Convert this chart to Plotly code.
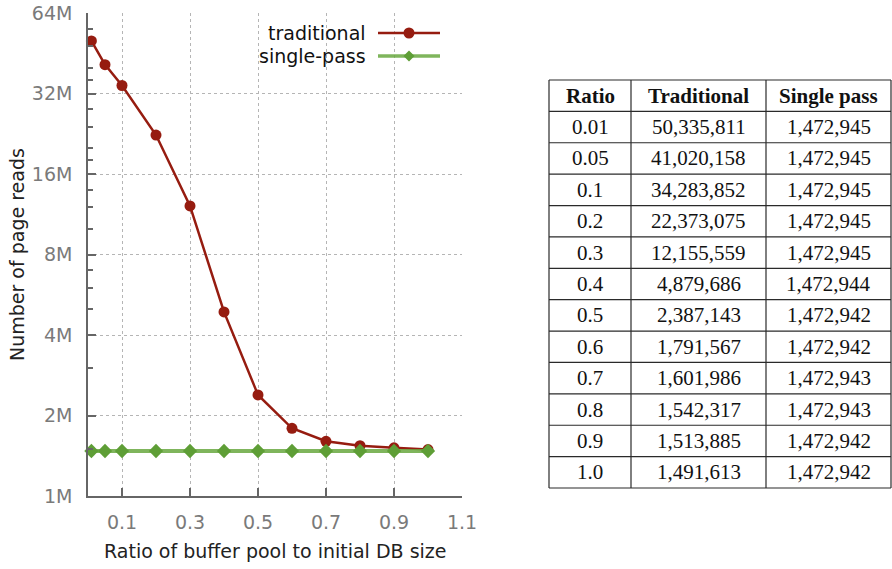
import plotly.graph_objects as go

# Page reads vs. buffer-pool ratio
ratios = [0.01, 0.05, 0.1, 0.2, 0.3, 0.4, 0.5, 0.6, 0.7, 0.8, 0.9, 1.0]
ratio_labels = ["0.01", "0.05", "0.1", "0.2", "0.3", "0.4", "0.5", "0.6", "0.7", "0.8", "0.9", "1.0"]
traditional = [50335811, 41020158, 34283852, 22373075, 12155559, 4879686,
               2387143, 1791567, 1601986, 1542317, 1513885, 1491613]
single_pass = [1472945, 1472945, 1472945, 1472945, 1472945, 1472944,
               1472942, 1472942, 1472943, 1472943, 1472942, 1472942]
table_headers = ["Ratio", "Traditional", "Single pass"]

y_tick_vals = [1e6, 2e6, 4e6, 8e6, 16e6, 32e6, 64e6]
y_tick_text = ["1M", "2M", "4M", "8M", "16M", "32M", "64M"]
y_minor_vals = [1.5e6, 3e6, 5e6, 6e6, 7e6, 10e6, 12e6, 14e6,
                18e6, 20e6, 24e6, 28e6, 36e6, 40e6, 48e6, 56e6]
x_tick_vals = [0.1, 0.3, 0.5, 0.7, 0.9, 1.1]
x_tick_text = ["0.1", "0.3", "0.5", "0.7", "0.9", "1.1"]

RED = "#961C10"
GREEN = "#5E9E36"
GREEN_LINE = "rgba(104,168,64,0.85)"
W, H = 892, 569


def px(x):
    return x / W


def py(y):
    return 1 - y / H


fig = go.Figure()

fig.add_trace(go.Scatter(
    x=ratios, y=traditional, name="traditional", mode="lines+markers",
    line=dict(color=RED, width=2.5),
    marker=dict(symbol="circle", size=11, color=RED),
    cliponaxis=False,
))
fig.add_trace(go.Scatter(
    x=ratios, y=single_pass, name="single-pass", mode="lines+markers",
    line=dict(color=GREEN_LINE, width=4),
    marker=dict(symbol="diamond", size=11, color=GREEN),
    cliponaxis=False,
))

axis_font = dict(family="DejaVu Sans", size=19, color="#7a7a7a")

fig.update_xaxes(
    domain=[px(88), px(462)], range=[0, 1.1],
    tickvals=x_tick_vals, ticktext=x_tick_text,
    ticks="inside", ticklen=8, tickwidth=1.5, tickcolor="#666666",
    showgrid=True, gridcolor="#b5b5b5", griddash="dot", gridwidth=1,
    showline=True, linecolor="#666666", linewidth=1.5,
    zeroline=False, tickfont=axis_font, ticklabelstandoff=8,
    automargin=False,
)
fig.update_yaxes(
    type="log", domain=[py(496), py(13)], range=[6, 7.80618],
    tickvals=y_tick_vals, ticktext=y_tick_text,
    ticks="inside", ticklen=8, tickwidth=1.5, tickcolor="#666666",
    minor=dict(tickvals=y_minor_vals, ticks="inside", ticklen=5,
               tickwidth=1.5, tickcolor="#666666", showgrid=False),
    showgrid=True, gridcolor="#b5b5b5", griddash="dot", gridwidth=1,
    showline=True, linecolor="#666666", linewidth=1.5,
    zeroline=False, tickfont=axis_font, ticklabelstandoff=10,
    automargin=False,
)

# axis titles
title_font = dict(family="DejaVu Sans", size=19, color="#222222")
fig.add_annotation(text="Ratio of buffer pool to initial DB size",
                   x=px(275), y=py(551), xref="paper", yref="paper",
                   xanchor="center", yanchor="middle",
                   showarrow=False, font=title_font)
fig.add_annotation(text="Number of page reads", textangle=-90,
                   x=px(17), y=py(255), xref="paper", yref="paper",
                   xanchor="center", yanchor="middle",
                   showarrow=False, font=title_font)

# legend drawn with the key on the right of the label
legend_rows = [("traditional", RED, "circle", 33), ("single-pass", GREEN, "diamond", 56)]
for label, color, sym, ly in legend_rows:
    fig.add_annotation(text=label, x=px(368), y=py(ly), xref="paper", yref="paper",
                       xanchor="right", yanchor="middle", showarrow=False,
                       font=dict(family="DejaVu Sans", size=19, color="#111111"))
    fig.add_shape(type="line", xref="paper", yref="paper",
                  x0=px(378), x1=px(440), y0=py(ly), y1=py(ly),
                  line=dict(color=color if sym == "circle" else GREEN_LINE,
                            width=2.5 if sym == "circle" else 3.5))
    if sym == "circle":
        fig.add_shape(type="circle", xref="paper", yref="paper",
                      x0=px(403.5), x1=px(414.5), y0=py(ly - 5.5), y1=py(ly + 5.5),
                      fillcolor=color, line=dict(color=color, width=0))
    else:
        cx, cy = px(409), py(ly)
        dx, dy = 5.5 / W, 5.5 / H
        fig.add_shape(type="path", xref="paper", yref="paper",
                      path=f"M {cx - dx} {cy} L {cx} {cy + dy} L {cx + dx} {cy} L {cx} {cy - dy} Z",
                      fillcolor=color, line=dict(color=color, width=0))

# data table, ruled grid with centred cell text
col_edges = [549, 631, 766, 891]
tbl_top, tbl_bottom = 80, 488
rows = [[f"<b>{h}</b>" for h in table_headers]] + [
    [r, f"{t:,}", f"{s:,}"] for r, t, s in zip(ratio_labels, traditional, single_pass)
]
row_h = (tbl_bottom - tbl_top) / len(rows)
rule = dict(color="#2a2a2a", width=1.2)
for i in range(len(rows) + 1):
    y = tbl_top + i * row_h
    fig.add_shape(type="line", xref="paper", yref="paper",
                  x0=px(col_edges[0]), x1=px(col_edges[-1]), y0=py(y), y1=py(y), line=rule)
for xe in col_edges:
    fig.add_shape(type="line", xref="paper", yref="paper",
                  x0=px(xe), x1=px(xe), y0=py(tbl_top), y1=py(tbl_bottom), line=rule)
cell_font = dict(family="Liberation Serif", size=21, color="#111111")
for i, row in enumerate(rows):
    yc = tbl_top + (i + 0.5) * row_h
    for j, txt in enumerate(row):
        xc = (col_edges[j] + col_edges[j + 1]) / 2
        fig.add_annotation(text=txt, x=px(xc), y=py(yc), xref="paper", yref="paper",
                           xanchor="center", yanchor="middle", showarrow=False,
                           font=cell_font)

fig.update_layout(
    width=W, height=H, margin=dict(l=0, r=0, t=0, b=0),
    paper_bgcolor="white", plot_bgcolor="white", showlegend=False,
)

fig.write_html("out.html")
